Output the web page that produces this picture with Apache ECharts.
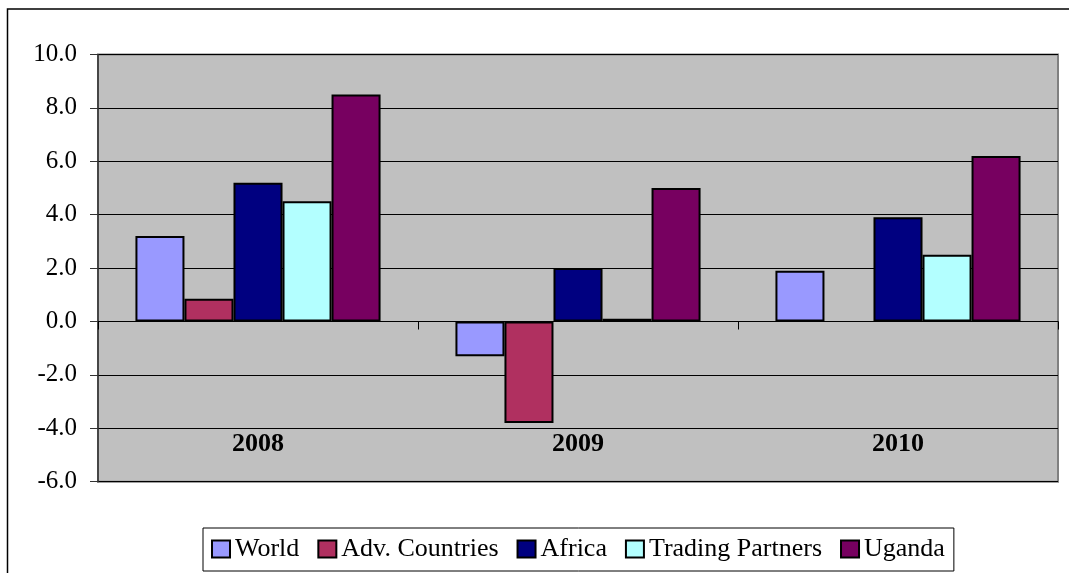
<!DOCTYPE html>
<html>
<head>
<meta charset="utf-8">
<script src="https://cdn.jsdelivr.net/npm/echarts@6/dist/echarts.min.js"></script>
<style>
html,body{margin:0;padding:0;background:#fff;}
#chart{width:1069px;height:573px;}
</style>
</head>
<body>
<div id="chart"></div>
<script>
const categories = ['2008', '2009', '2010'];
const seriesNames = ['World', 'Adv. Countries', 'Africa', 'Trading Partners', 'Uganda'];
const world = [3.2, -1.3, 1.9];
const advCountries = [0.85, -3.8, null];
const africa = [5.2, 2.0, 3.9];
const tradingPartners = [4.5, 0.1, 2.5];
const uganda = [8.5, 5.0, 6.2];
const colors = ['#9999FF', '#B03060', '#000080', '#B3FFFF', '#770060'];
const values = [world, advCountries, africa, tradingPartners, uganda];

const FONT = '"Liberation Serif", "Times New Roman", serif';
const chart = echarts.init(document.getElementById('chart'));
chart.setOption({
  animation: false,
  backgroundColor: '#ffffff',
  graphic: [{
    type: 'rect',
    shape: { x: 7.5, y: 9, width: 1120, height: 620 },
    style: { fill: 'none', stroke: '#000', lineWidth: 1.5 },
    silent: true,
    z: 100
  }],
  grid: {
    left: 98, top: 54.5, right: 11, bottom: 91.3,
    outerBoundsMode: 'none',
    containLabel: false,
    show: true, backgroundColor: '#C0C0C0', borderColor: '#808080', borderWidth: 2
  },
  legend: {
    left: 203, top: 528,
    padding: [8, 9, 9, 8],
    itemWidth: 18, itemHeight: 17, itemGap: 18,
    borderColor: '#000', borderWidth: 1,
    icon: 'rect',
    textStyle: { fontFamily: FONT, fontSize: 26, color: '#000' },
    data: seriesNames
  },
  xAxis: [{
    type: 'category',
    data: categories,
    axisLine: { onZero: true, lineStyle: { color: '#000', width: 1 } },
    axisTick: { show: true, length: 8, lineStyle: { color: '#000' } },
    axisLabel: { show: false },
    splitLine: { show: false }
  }, {
    type: 'category',
    data: categories,
    position: 'bottom',
    axisLine: { show: false, onZero: false },
    axisTick: { show: false },
    axisLabel: { inside: true, margin: 24, fontFamily: FONT, fontSize: 26, fontWeight: 'bold', color: '#000' },
    splitLine: { show: false }
  }],
  yAxis: {
    type: 'value',
    min: -6, max: 10, interval: 2,
    axisLine: { show: true, lineStyle: { color: '#333', width: 1.5 } },
    axisTick: { show: true, length: 8, lineStyle: { color: '#333' } },
    axisLabel: { margin: 21, fontFamily: FONT, fontSize: 25, color: '#000', formatter: v => v.toFixed(1) },
    splitLine: { show: true, lineStyle: { color: '#000', width: 1 } }
  },
  series: seriesNames.map((name, i) => ({
    name: name,
    type: 'bar',
    xAxisIndex: 0,
    data: values[i],
    barGap: '0%',
    barCategoryGap: '23.4%',
    itemStyle: { color: colors[i], borderColor: '#000', borderWidth: 2 }
  }))
});
</script>
</body>
</html>
